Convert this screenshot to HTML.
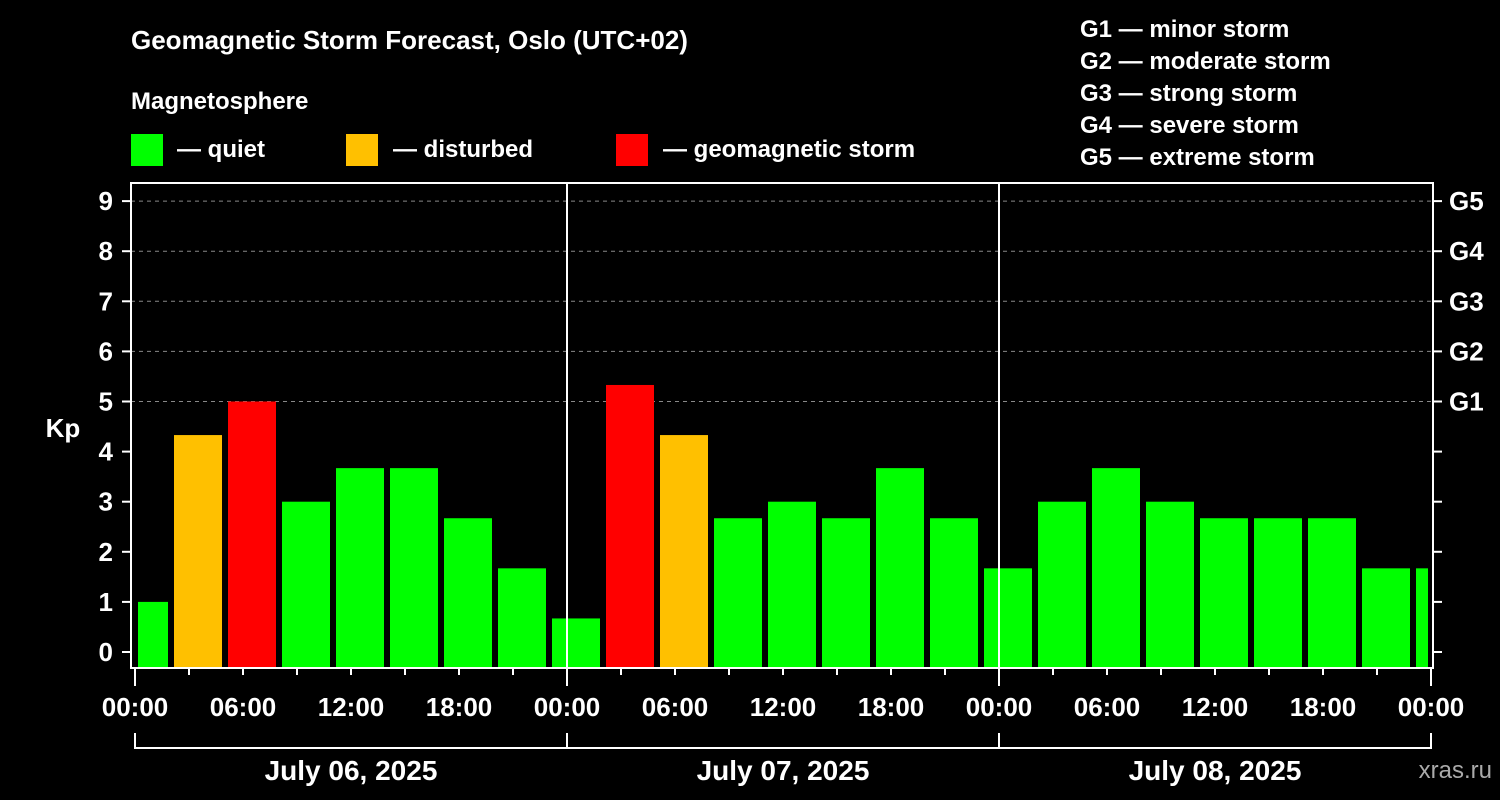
<!DOCTYPE html>
<html><head><meta charset="utf-8"><style>
html,body{margin:0;padding:0;background:#000;}
svg{display:block;font-family:"Liberation Sans",Arial,sans-serif;font-weight:bold;}
</style></head><body>
<svg id="chart" width="1500" height="800" viewBox="0 0 1500 800">
<rect x="0" y="0" width="1500" height="800" fill="#000"/>
<text x="131" y="49" fill="#fff" font-size="26">Geomagnetic Storm Forecast, Oslo (UTC+02)</text>
<text x="131" y="109" fill="#fff" font-size="24">Magnetosphere</text>
<g><rect x="131" y="134" width="32" height="32" fill="#00ff00"/><text x="177" y="157" fill="#fff" font-size="24">— quiet</text></g>
<g><rect x="346" y="134" width="32" height="32" fill="#ffc000"/><text x="393" y="157" fill="#fff" font-size="24">— disturbed</text></g>
<g><rect x="616" y="134" width="32" height="32" fill="#ff0000"/><text x="663" y="157" fill="#fff" font-size="24">— geomagnetic storm</text></g>
<g fill="#fff" font-size="24">
<text x="1080" y="37">G1 — minor storm</text>
<text x="1080" y="69">G2 — moderate storm</text>
<text x="1080" y="101">G3 — strong storm</text>
<text x="1080" y="133">G4 — severe storm</text>
<text x="1080" y="165">G5 — extreme storm</text>
</g>
<text x="63" y="437" fill="#fff" font-size="26" text-anchor="middle">Kp</text>
<text x="1492" y="778" fill="#aaa" font-size="24" font-weight="normal" text-anchor="end">xras.ru</text>
<g id="grid"></g><g id="bars"></g><g id="axes"></g>
</svg>
<script>
const kpValues=[1.0,4.33,5.0,3.0,3.67,3.67,2.67,1.67,0.67,5.33,4.33,2.67,3.0,2.67,3.67,2.67,1.67,3.0,3.67,3.0,2.67,2.67,2.67,1.67,1.67];
const yTickLabels=["0","1","2","3","4","5","6","7","8","9"];
const gLabels=["G1","G2","G3","G4","G5"];
const xTickLabels=["00:00","06:00","12:00","18:00","00:00","06:00","12:00","18:00","00:00","06:00","12:00","18:00","00:00"];
const dayLabels=["July 06, 2025","July 07, 2025","July 08, 2025"];
const binStartHour=-1, binHours=3, totalHours=72;
const NS="http://www.w3.org/2000/svg";
const X0=135,X1=1431,Y0=652,PXK=50.1;
const L=131,R=1433,T=183,B=668;
function xs(h){return X0+(X1-X0)*h/totalHours;}
function ys(k){return Y0-k*PXK;}
function mk(p,tag,a){const e=document.createElementNS(NS,tag);for(const k in a)e.setAttribute(k,a[k]);p.appendChild(e);return e;}
const grid=document.getElementById('grid'),bars=document.getElementById('bars'),axes=document.getElementById('axes');
for(let k=5;k<=9;k++){
 const l=mk(grid,'line',{x1:L,x2:R,y1:ys(k),y2:ys(k),stroke:'#888','stroke-width':1,'stroke-dasharray':'4,4'});
 
 
}
kpValues.forEach((v,i)=>{
 let h0=Math.max(0,binStartHour+i*binHours),h1=Math.min(totalHours,binStartHour+(i+1)*binHours);
 const x0=xs(h0)+3,x1=xs(h1)-3;
 const c=v>=5?'#ff0000':(v>=4?'#ffc000':'#00ff00');
 const r=mk(bars,'rect',{x:x0,y:ys(v),width:Math.max(0,x1-x0),height:B-ys(v),fill:c});
 
 
});
const fr=mk(axes,'rect',{x:L,y:T,width:R-L,height:B-T,fill:'none',stroke:'#fff','stroke-width':2});


for(let d=1;d<3;d++){
 const l=mk(axes,'line',{x1:xs(d*24),x2:xs(d*24),y1:T,y2:B,stroke:'#fff','stroke-width':2});
 
 
}
yTickLabels.forEach((t,k)=>{
 mk(axes,'line',{x1:122,x2:L,y1:ys(k),y2:ys(k),stroke:'#fff','stroke-width':2});
 mk(axes,'line',{x1:R,x2:1442,y1:ys(k),y2:ys(k),stroke:'#fff','stroke-width':2});
 const tx=mk(axes,'text',{x:113,y:ys(k)+9,fill:'#fff','font-size':26,'text-anchor':'end'});
 tx.textContent=t;
 
 
});
gLabels.forEach((g,i)=>{
 const tx=mk(axes,'text',{x:1449,y:ys(5+i)+9,fill:'#fff','font-size':26});
 tx.textContent=g;
 
 
});
for(let h=0;h<=totalHours;h+=3){
 const major=h%24===0;
 mk(axes,'line',{x1:xs(h),x2:xs(h),y1:B,y2:major?686:675,stroke:'#fff','stroke-width':2});
}
xTickLabels.forEach((t,i)=>{
 const tx=mk(axes,'text',{x:xs(i*6),y:716,fill:'#fff','font-size':26,'text-anchor':'middle'});
 tx.textContent=t;
 
 
});
mk(axes,'line',{x1:xs(0),x2:xs(72),y1:748,y2:748,stroke:'#fff','stroke-width':2});
for(let d=0;d<=3;d++) mk(axes,'line',{x1:xs(d*24),x2:xs(d*24),y1:733,y2:749,stroke:'#fff','stroke-width':2});
dayLabels.forEach((t,i)=>{
 const tx=mk(axes,'text',{x:xs(i*24+12),y:780,fill:'#fff','font-size':28,'text-anchor':'middle'});
 tx.textContent=t;
 
 
});
</script>
</body></html>
